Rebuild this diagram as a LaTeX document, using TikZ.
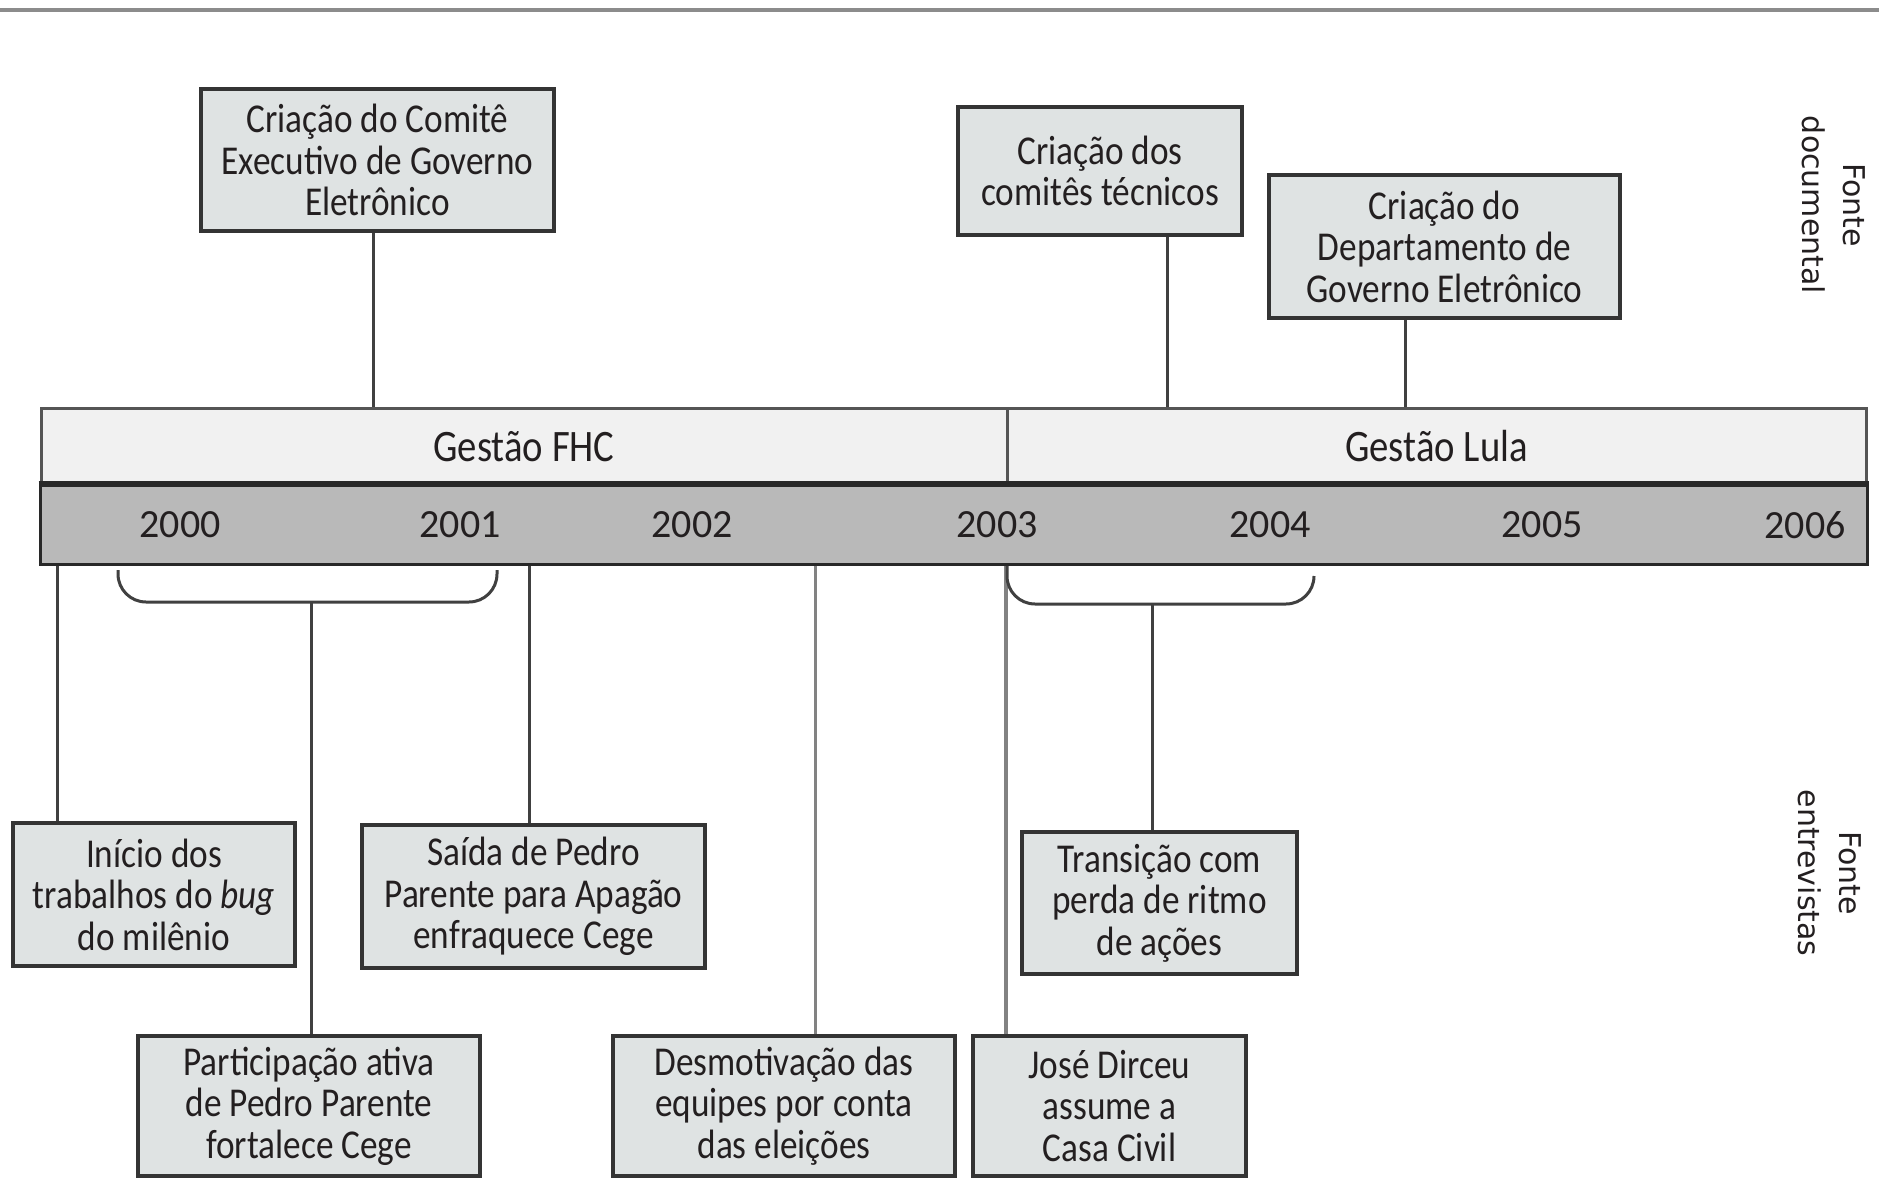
\documentclass[tikz,border=0pt]{standalone}
\usepackage{fontspec}
\setmainfont{Carlito}
\newfontfamily\narrowfont[FakeStretch=0.86]{Carlito}
\newfontfamily\sidefont{DejaVu Sans}
\definecolor{boxfill}{RGB}{223,227,227}
\definecolor{boxline}{RGB}{52,52,52}
\definecolor{barfill}{RGB}{241,241,241}
\definecolor{barline}{RGB}{85,85,85}
\definecolor{yearfill}{RGB}{185,185,185}
\definecolor{yearline}{RGB}{40,40,40}
\definecolor{connc}{RGB}{64,64,64}
\definecolor{lightconn}{RGB}{130,130,130}
\definecolor{topline}{RGB}{140,140,140}
\definecolor{txt}{RGB}{35,31,32}
\begin{document}
\begin{tikzpicture}[x=1pt,y=-1pt,
  evbox/.style={draw=boxline, fill=boxfill, line width=3.5pt, inner sep=0pt, align=center,
    font=\narrowfont\fontsize{41}{41.5}\selectfont, text=txt},
  barbox/.style={draw=barline, fill=barfill, line width=3pt, inner sep=0pt,
    font=\narrowfont\fontsize{45}{46}\selectfont, text=txt},
  yearlbl/.style={font=\fontsize{40}{40}\selectfont, text=txt, inner sep=0pt},
  conn/.style={draw=connc, line width=3pt},
  sidelbl/.style={font=\sidefont\fontsize{30}{41}\selectfont, text=txt, align=center, rotate=-90, inner sep=0pt}]
\useasboundingbox (0,0) rectangle (1879,1178);
\fill[white] (0,0) rectangle (1879,1178);

% top rule
\coordinate (tl) at (0,10);
\coordinate (tr) at (1879,10);
\draw[topline, line width=4pt] (tl) -- (tr);

% bars
\node[barbox, minimum width=966pt, minimum height=77pt] (fhc) at (524,446.5) {Gestão FHC};
\node[barbox, minimum width=859pt, minimum height=77pt] (lula) at (1436.5,446.5) {Gestão Lula};
\node[draw=yearline, fill=yearfill, line width=3pt, minimum width=1827pt, minimum height=79pt, inner sep=0pt] (years) at (953.5,524.5) {};
\draw[yearline, line width=5pt] (years.north west) -- (years.north east);

\node[yearlbl] (y2000) at (180,525) {2000};
\node[yearlbl] (y2001) at (460,525) {2001};
\node[yearlbl] (y2002) at (692,525) {2002};
\node[yearlbl] (y2003) at (997,525) {2003};
\node[yearlbl] (y2004) at (1270,525) {2004};
\node[yearlbl] (y2005) at (1542,525) {2005};
\node[yearlbl] (y2006) at (1805,525) {2006};

% top events
\node[evbox, minimum width=353pt, minimum height=142pt] (A) at (377.5,160) {Criação do Comitê\\Executivo de Governo\\Eletrônico};
\node[evbox, minimum width=284pt, minimum height=128pt] (B) at (1100,171) {Criação dos\\comitês técnicos};
\node[evbox, minimum width=351pt, minimum height=143pt] (C) at (1444.5,246.5) {Criação do\\Departamento de\\Governo Eletrônico};

\coordinate (ax) at (373,0);
\coordinate (bx) at (1167,0);
\coordinate (cx) at (1405,0);
\draw[conn] (A.south -| ax) -- (fhc.north -| ax);
\draw[conn] (B.south -| bx) -- (lula.north -| bx);
\draw[conn] (C.south -| cx) -- (lula.north -| cx);

% side labels
\node[sidelbl] (fdoc) at (1834,205) {Fonte\\documental};
\node[sidelbl] (fent) at (1830,873) {Fonte\\entrevistas};

% bottom events
\node[evbox, minimum width=282pt, minimum height=143pt] (inicio) at (154,894.5) {Início dos\\trabalhos do {\itshape bug}\\do milênio};
\node[evbox, minimum width=343pt, minimum height=143pt] (saida) at (533.5,896.5) {Saída de Pedro\\Parente para Apagão\\enfraquece Cege};
\node[evbox, minimum width=275pt, minimum height=142pt] (trans) at (1159.5,903) {Transição com\\perda de ritmo\\de ações};
\node[evbox, minimum width=342pt, minimum height=140pt] (part) at (309,1106) {Participação ativa\\de Pedro Parente\\fortalece Cege};
\node[evbox, minimum width=342pt, minimum height=140pt] (desm) at (784,1106) {Desmotivação das\\equipes por conta\\das eleições};
\node[evbox, minimum width=273pt, minimum height=140pt] (jose) at (1109.5,1106) {José Dirceu\\assume a\\Casa Civil};

% bottom connectors
\coordinate (ix) at (57,0);
\coordinate (sx) at (529,0);
\coordinate (dx) at (815,0);
\coordinate (jx) at (1006,0);
\draw[conn] (years.south -| ix) -- (inicio.north -| ix);
\draw[conn] (years.south -| sx) -- (saida.north -| sx);
\draw[draw=lightconn, line width=3pt] (years.south -| dx) -- (desm.north -| dx);
\draw[draw=lightconn, line width=4pt] (years.south -| jx) -- (jose.north -| jx);

% brackets
\coordinate (b1l) at (118,570);
\coordinate (b1r) at (497,570);
\coordinate (b1s) at (311,602);
\draw[conn, rounded corners=28pt] (b1l) -- (118,602) -- (497,602) -- (b1r);
\draw[conn] (b1s) -- (part.north -| b1s);

\coordinate (b2l) at (1007,566);
\coordinate (b2r) at (1314,576);
\coordinate (b2s) at (1152,604);
\draw[conn, rounded corners=28pt] (b2l) -- (1007,604) -- (1314,604) -- (b2r);
\draw[conn] (b2s) -- (trans.north -| b2s);
\end{tikzpicture}
\end{document}
